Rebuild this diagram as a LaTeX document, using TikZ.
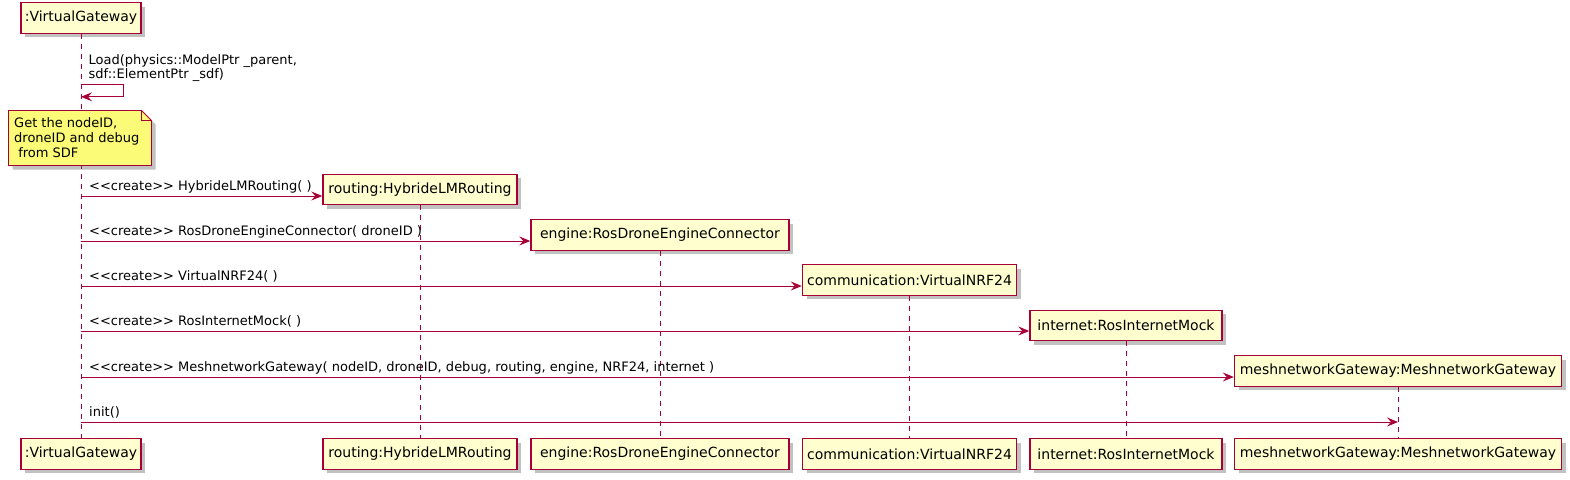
\documentclass[tikz,border=0pt]{standalone}
\usepackage{fontspec}
\setmainfont{DejaVu Sans}
\usetikzlibrary{arrows.meta,shadows}
\definecolor{pborder}{HTML}{A80036}
\definecolor{pfill}{HTML}{FEFECE}
\definecolor{nfill}{HTML}{FBFB77}
\begin{document}
\begin{tikzpicture}[x=1pt,y=-1pt,
  shad/.style={drop shadow={shadow xshift=4pt, shadow yshift=-4pt, opacity=0.35, fill=black!70}},
  part/.style={draw=pborder, fill=pfill, line width=1.4pt, minimum height=30.5pt, inner sep=0pt,
    font=\fontsize{14}{16}\selectfont, shad},
  life/.style={draw=pborder, dash pattern=on 5pt off 5pt, line width=0.9pt},
  msg/.style={draw=pborder, line width=1pt, -{Stealth[length=11pt,width=9pt,inset=4pt]}},
  mlabel/.style={anchor=base west, inner sep=0pt, font=\fontsize{13}{15}\selectfont},
  notetext/.style={anchor=base west, inner sep=0pt, align=left, font=\fontsize{13}{15}\selectfont}]
\useasboundingbox (0,0) rectangle (1570,479);

% participants (top / created)
\node[part, minimum width=120pt] (vgT) at (81,18) {:VirtualGateway};
\node[part, minimum width=194pt] (rT) at (420,189.5) {routing:HybrideLMRouting};
\node[part, minimum width=258pt] (eT) at (660,235) {engine:RosDroneEngineConnector};
\node[part, minimum width=214pt] (cT) at (909.5,280) {communication:VirtualNRF24};
\node[part, minimum width=192pt] (iT) at (1126,325.5) {internet:RosInternetMock};
\node[part, minimum width=327pt] (mT) at (1398,371) {meshnetworkGateway:MeshnetworkGateway};

% participants (bottom)
\node[part, minimum width=120pt] (vgB) at (81,454) {:VirtualGateway};
\node[part, minimum width=194pt] (rB) at (420,454) {routing:HybrideLMRouting};
\node[part, minimum width=258pt] (eB) at (660,454) {engine:RosDroneEngineConnector};
\node[part, minimum width=214pt] (cB) at (909.5,454) {communication:VirtualNRF24};
\node[part, minimum width=192pt] (iB) at (1126,454) {internet:RosInternetMock};
\node[part, minimum width=327pt] (mB) at (1398,454) {meshnetworkGateway:MeshnetworkGateway};

% lifelines
\draw[life] (vgT.south) -- (vgB.north);
\draw[life] (rT.south) -- (rB.north);
\draw[life] (eT.south) -- (eB.north);
\draw[life] (cT.south) -- (cB.north);
\draw[life] (iT.south) -- (iB.north);
\draw[life] (mT.south) -- (mB.north);

% self message
\coordinate (s1) at (81,84.3);
\draw[msg] (s1) -- ++(42.5,0) -- ++(0,12.5) -- ++(-42.5,0);
\node[mlabel] (l0a) at (88.5,64.5) {Load(physics::ModelPtr \_parent,};
\node[mlabel] (l0b) at (88.5,78.5) {sdf::ElementPtr \_sdf)};

% note
\path[draw=pborder, fill=nfill, line width=0.9pt, shad]
  (8.5,110.5) -- (141.5,110.5) -- (151.5,120.5) -- (151.5,165.5) -- (8.5,165.5) -- cycle;
\draw[pborder, line width=0.9pt] (141.5,110.5) -- (141.5,120.5) -- (151.5,120.5);
\node[mlabel] (n1) at (14,127.7) {Get the nodeID,};
\node[mlabel] (n2) at (14,142.5) {droneID and debug};
\node[mlabel] (n3) at (14,157.3) {~from SDF};

% create messages
\coordinate (m1) at (81,196);
\draw[msg] (m1) -- (m1 -| rT.west);
\node[mlabel] (t1) at (89,190.5) {<{}<create>{}> HybrideLMRouting( )};

\coordinate (m2) at (81,241);
\draw[msg] (m2) -- (m2 -| eT.west);
\node[mlabel] (t2) at (89,235.5) {<{}<create>{}> RosDroneEngineConnector( droneID )};

\coordinate (m3) at (81,286);
\draw[msg] (m3) -- (m3 -| cT.west);
\node[mlabel] (t3) at (89,280.5) {<{}<create>{}> VirtualNRF24( )};

\coordinate (m4) at (81,331);
\draw[msg] (m4) -- (m4 -| iT.west);
\node[mlabel] (t4) at (89,325.5) {<{}<create>{}> RosInternetMock( )};

\coordinate (m5) at (81,377);
\draw[msg] (m5) -- (m5 -| mT.west);
\node[mlabel] (t5) at (89,371.5) {<{}<create>{}> MeshnetworkGateway( nodeID, droneID, debug, routing, engine, NRF24, internet )};

\coordinate (m6) at (81,422);
\draw[msg] (m6) -- (m6 -| mT.south);
\node[mlabel] (t6) at (89,416.5) {init()};
\end{tikzpicture}
\end{document}
